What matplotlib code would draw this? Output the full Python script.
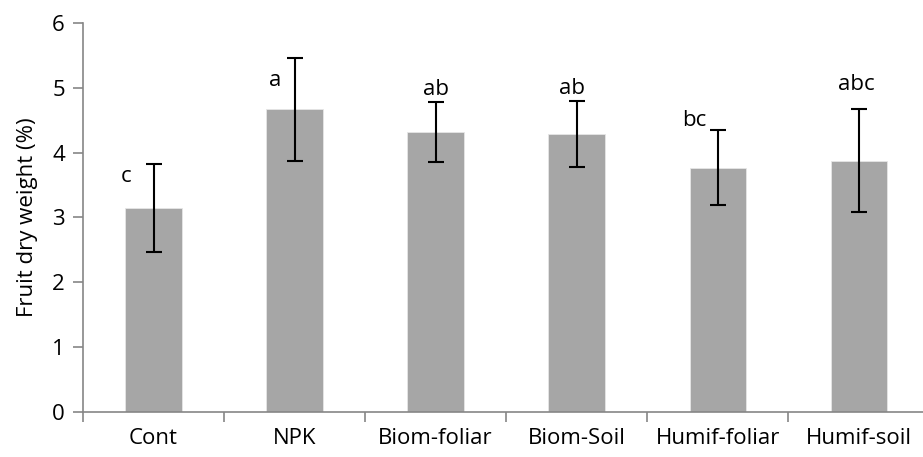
'''
fruit dry weight bar chart
'''

import matplotlib
matplotlib.use('Agg')
import matplotlib.pyplot as plt
import numpy as np

treatments = ['Cont', 'NPK', 'Biom-foliar', 'Biom-Soil', 'Humif-foliar', 'Humif-soil']
dry_weight = [3.15, 4.67, 4.32, 4.29, 3.77, 3.88]
err = [0.68, 0.80, 0.47, 0.51, 0.58, 0.80]
letters = ['c', 'a', 'ab', 'ab', 'bc', 'abc']
# letter positions (x offset from bar centre, y in data units)
letter_dx = [-0.195, -0.14, 0.0, -0.03, -0.17, -0.02]
letter_y = [3.64, 5.12, 4.97, 5.0, 4.5, 5.05]

plt.rcParams['font.family'] = ['Open Sans', 'DejaVu Sans']
fs = 16

fig = plt.figure(figsize=(9.23, 4.57), dpi=100)
ax = fig.add_axes([0.0899, 0.0991, 0.917, 0.85])

x = np.arange(len(treatments))
ax.bar(x, dry_weight, width=0.4, color='#a6a6a6', edgecolor='#e6e6e6', linewidth=0.6, zorder=2)
ax.errorbar(x, dry_weight, yerr=err, fmt='none', ecolor='black', elinewidth=1.5,
            capsize=6, capthick=1.5, zorder=3)

for i, lab in enumerate(letters):
    ax.text(x[i] + letter_dx[i], letter_y[i], lab, ha='center', va='center', fontsize=fs)

ax.set_xlim(-0.5, 5.5)
ax.set_ylim(0, 6)
ax.set_yticks(range(7))
ax.set_xticks(x)
ax.set_xticklabels(treatments, fontsize=fs)
ax.tick_params(axis='y', labelsize=fs, length=7, width=1.2, color='#868686', pad=6)
ax.tick_params(axis='x', length=0, pad=12)
# category separator ticks
ax.set_xticks(np.arange(-0.5, 6, 1), minor=True)
ax.tick_params(axis='x', which='minor', length=7, width=1.2, color='#868686')

for s in ['top', 'right']:
    ax.spines[s].set_visible(False)
for s in ['left', 'bottom']:
    ax.spines[s].set_color('#868686')
    ax.spines[s].set_linewidth(1.2)

ax.set_ylabel('Fruit dry weight (%)', fontsize=fs, labelpad=10)

fig.savefig('out.png', dpi=100)
